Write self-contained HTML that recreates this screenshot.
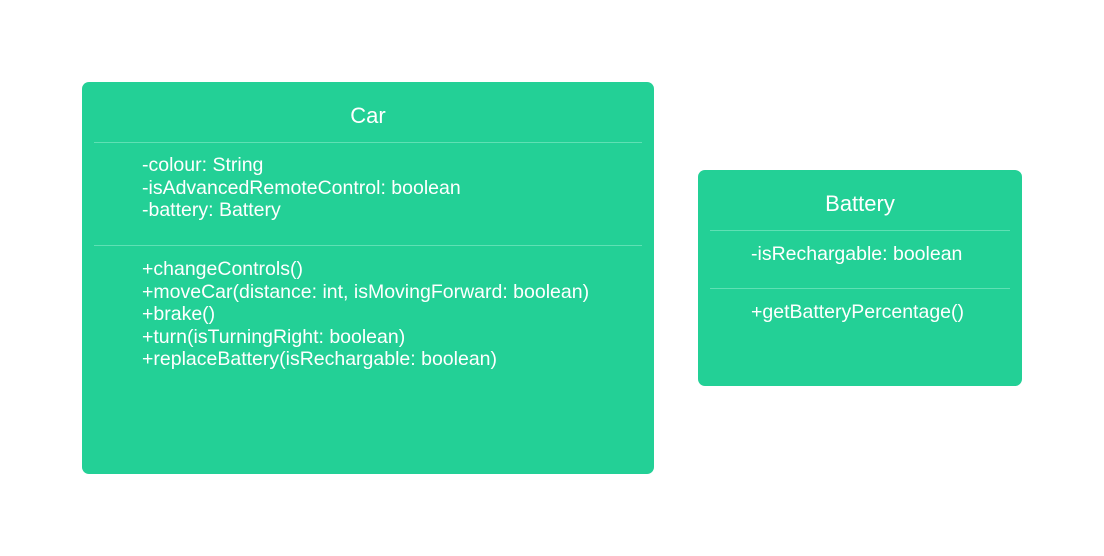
<!DOCTYPE html>
<html><head><style>
body{margin:0;width:1104px;height:556px;background:#fff;position:relative;font-family:"Liberation Sans",sans-serif;color:#fff;overflow:hidden}
.b{position:absolute;background:#23d096;border-radius:7px}
.t{position:absolute;left:0;right:0;text-align:center;font-size:22px;line-height:24px}
.l{position:absolute;height:1px;background:#5fe0b4}
.x{position:absolute;font-size:19.5px;line-height:22.6px;white-space:pre}
</style></head><body>
<div class="b" style="left:82px;top:82px;width:572px;height:392px">
<div class="t" style="top:22px">Car</div>
<div class="l" style="left:12px;right:12px;top:60px"></div>
<div class="x" style="left:60px;top:72px">-colour: String
-isAdvancedRemoteControl: boolean
-battery: Battery</div>
<div class="l" style="left:12px;right:12px;top:163px"></div>
<div class="x" style="left:60px;top:176px">+changeControls()
+moveCar(distance: int, isMovingForward: boolean)
+brake()
+turn(isTurningRight: boolean)
+replaceBattery(isRechargable: boolean)</div>
</div>
<div class="b" style="left:698px;top:170px;width:324px;height:216px">
<div class="t" style="top:22px">Battery</div>
<div class="l" style="left:12px;right:12px;top:60px"></div>
<div class="x" style="left:53px;top:73px">-isRechargable: boolean</div>
<div class="l" style="left:12px;right:12px;top:118px"></div>
<div class="x" style="left:53px;top:131px">+getBatteryPercentage()</div>
</div>
</body></html>
